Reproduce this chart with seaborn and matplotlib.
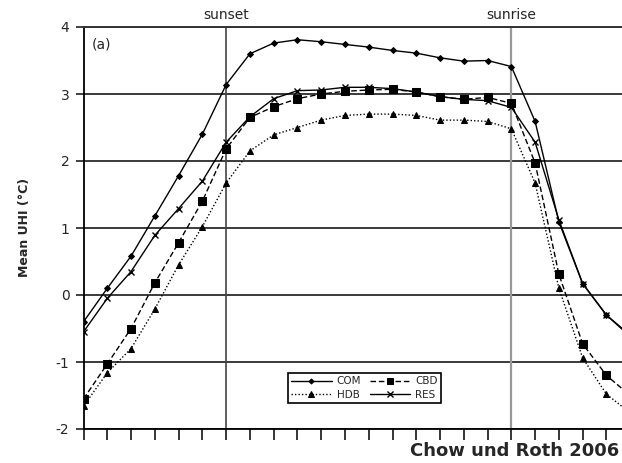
import matplotlib
matplotlib.use("Agg")
import matplotlib.pyplot as plt
import seaborn as sns
import pandas as pd

# hourly steps across the evening, night and morning
hours = list(range(24))
sunset_idx = 6
sunrise_idx = 18

# mean urban heat island intensity (°C) per land-use class
com = [-0.40, 0.10, 0.58, 1.18, 1.78, 2.40, 3.14, 3.60, 3.76, 3.81, 3.78, 3.74,
       3.70, 3.65, 3.61, 3.54, 3.49, 3.50, 3.41, 2.59, 1.09, 0.17, -0.30, -0.60]
cbd = [-1.55, -1.03, -0.50, 0.18, 0.78, 1.40, 2.18, 2.65, 2.81, 2.93, 3.00, 3.04,
       3.06, 3.07, 3.03, 2.96, 2.92, 2.95, 2.86, 1.97, 0.31, -0.73, -1.20, -1.50]
hdb = [-1.66, -1.16, -0.80, -0.21, 0.45, 1.02, 1.67, 2.15, 2.39, 2.50, 2.61, 2.68,
       2.70, 2.70, 2.68, 2.61, 2.61, 2.59, 2.48, 1.67, 0.10, -0.94, -1.48, -1.76]
res = [-0.55, -0.05, 0.35, 0.89, 1.29, 1.70, 2.28, 2.66, 2.93, 3.05, 3.06, 3.10,
       3.10, 3.08, 3.03, 2.96, 2.92, 2.90, 2.80, 2.28, 1.12, 0.17, -0.30, -0.62]

series_names = ["COM", "CBD", "HDB", "RES"]
yticks = [-2, -1, 0, 1, 2, 3, 4]

sns.set_style("white")
plt.rcParams["font.family"] = ["DejaVu Sans"]

fig = plt.figure(figsize=(6.22, 4.63), dpi=100)
W, H = 622, 463
x0_px, step_px = 83.5, 23.77
ax = fig.add_axes([x0_px / W, 34 / H, 24 * step_px / W, 402 / H])

styles = {
    "COM": dict(marker="D", markersize=3.0, linestyle="-"),
    "CBD": dict(marker="s", markersize=5.3, linestyle=(0, (4, 2))),
    "HDB": dict(marker="^", markersize=5.0, linestyle=(0, (1, 1.5))),
    "RES": dict(marker="x", markersize=4.6, markeredgewidth=1.0, linestyle="-"),
}
values = {"COM": com, "CBD": cbd, "HDB": hdb, "RES": res}

for name in series_names:
    df = pd.DataFrame({"hour": hours, "uhi": values[name]})
    sns.lineplot(data=df, x="hour", y="uhi", ax=ax, color="black", linewidth=1.0,
                 markeredgecolor="black", label=name, zorder=3, **styles[name])

# horizontal reference lines at every whole degree
for yv in yticks:
    ax.axhline(yv, color="#3a3a3a", linewidth=1.4, zorder=1)

ax.axvline(sunset_idx, color="#444444", linewidth=1.2, zorder=1)
ax.axvline(sunrise_idx, color="#999999", linewidth=1.6, zorder=1)

ax.set_xlim(0, 24)
ax.set_ylim(-2, 4)
ax.set_xticks(hours)
ax.set_xticklabels([])
ax.set_yticks(yticks)
ax.set_yticklabels([str(v) for v in yticks], fontsize=10)
ax.tick_params(axis="x", direction="out", length=7.7, width=1.1, color="black",
               bottom=True)
ax.tick_params(axis="y", direction="out", length=5.8, width=1.3, color="#333333",
               pad=4.3, left=True)
ax.set_xlabel("")
ax.set_ylabel("")

for side in ["left", "bottom"]:
    ax.spines[side].set_color("black")
    ax.spines[side].set_linewidth(1.3)
ax.spines["top"].set_color("#333333")
ax.spines["top"].set_linewidth(1.4)
ax.spines["right"].set_visible(False)

ax.text(sunset_idx, 4.18, "sunset", ha="center", va="center", fontsize=10,
        clip_on=False)
ax.text(sunrise_idx, 4.18, "sunrise", ha="center", va="center", fontsize=10,
        clip_on=False)
fig.text(92 / W, 1 - 44 / H, "(a)", ha="left", va="center", fontsize=10)

fig.text(25 / W, 1 - 227 / H, "Mean UHI (°C)", rotation=90, ha="center",
         va="center", fontsize=9, fontweight="bold")

fig.text(619 / W, 6.5 / H, "Chow und Roth 2006", ha="right", va="baseline",
         fontsize=13, fontweight="bold")

handles, labels = ax.get_legend_handles_labels()
order = ["COM", "HDB", "CBD", "RES"]
hmap = dict(zip(labels, handles))
leg = ax.legend([hmap[k] for k in order], order, ncol=2, loc="center",
                bbox_to_anchor=(364.5 / W, 1 - 388 / H),
                bbox_transform=fig.transFigure, fontsize=7.5, frameon=True,
                fancybox=False, handlelength=3.9, handletextpad=0.5,
                columnspacing=0.8, borderpad=0.3, labelspacing=0.3,
                markerscale=0.85)
leg.get_frame().set_edgecolor("black")
leg.get_frame().set_linewidth(1.2)
leg.get_frame().set_alpha(1)

fig.savefig("out.png", dpi=100)
